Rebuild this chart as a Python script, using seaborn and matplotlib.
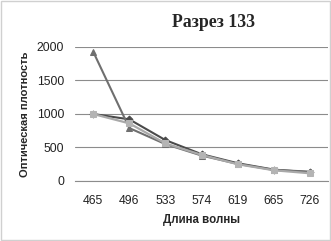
import matplotlib
matplotlib.use("Agg")
import matplotlib.pyplot as plt
import seaborn as sns
import pandas as pd
from matplotlib.patches import Rectangle

wavelengths = ["465", "496", "533", "574", "619", "665", "726"]
series_triangle = [1930, 790, 550, 380, 255, 165, 140]
series_diamond = [1000, 920, 610, 400, 265, 170, 130]
series_square = [1000, 860, 560, 390, 250, 160, 115]
y_ticks = [0, 500, 1000, 1500, 2000]

sns.set_style("white")
plt.rcParams['font.family'] = ['Liberation Sans', 'DejaVu Sans']

fig = plt.figure(figsize=(3.31, 2.41), dpi=100)
ax = fig.add_axes([0.227, 0.249, 0.764, 0.556])

specs = [
    (series_diamond, "#4a4a4a", "D", "#4a4a4a", 3.5, 1.5),
    (series_triangle, "#6f6f6f", "^", "#6f6f6f", 5.0, 1.5),
    (series_square, "#a9a9a9", "s", "#b4b4b4", 4.5, 1.6),
]
for vals, color, marker, mcolor, ms, lw in specs:
    df = pd.DataFrame({"x": wavelengths, "y": vals})
    sns.lineplot(data=df, x="x", y="y", ax=ax, color=color, marker=marker,
                 markersize=ms, markerfacecolor=mcolor, markeredgecolor=mcolor,
                 linewidth=lw, sort=False)

ax.set_xlim(-0.5, 6.5)
ax.set_ylim(0, 2000)
ax.set_yticks(y_ticks)
ax.yaxis.grid(True, color="#8c8c8c", linewidth=0.8)
ax.set_axisbelow(True)
for s in ["left", "right", "top"]:
    ax.spines[s].set_visible(False)
ax.spines["bottom"].set_color("#8c8c8c")
ax.spines["bottom"].set_linewidth(0.8)
ax.tick_params(axis="both", length=0, labelsize=8.8, colors="#222222", pad=8)
ax.tick_params(axis="x", pad=10)

ax.set_xlabel("Длина волны", fontsize=8.3, fontweight="bold", labelpad=5)
ax.set_ylabel("Оптическая плотность", fontsize=8, fontweight="bold", labelpad=5)

fig.text(0.645, 0.905, "Разрез 133", fontsize=12.8, fontweight="bold",
         family=["Liberation Serif", "DejaVu Serif"], ha="center", va="center")

fig.patches.append(Rectangle((0.004, 0.004), 0.992, 0.992, transform=fig.transFigure,
                             fill=False, edgecolor="#d0d0d0", linewidth=1.0))

fig.savefig("out.png", dpi=100)
